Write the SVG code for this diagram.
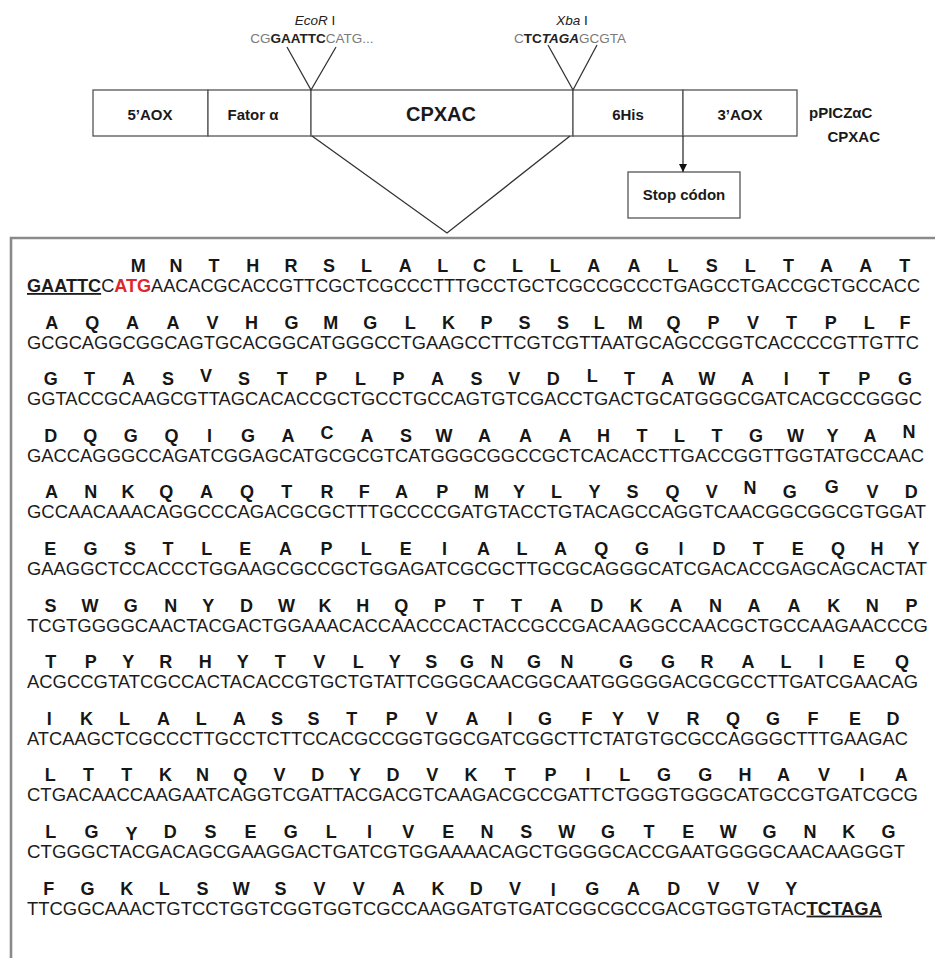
<svg xmlns="http://www.w3.org/2000/svg" width="935" height="958" viewBox="0 0 935 958">
  <defs>
    <marker id="arrowhead" viewBox="0 0 10 10" refX="10" refY="5" markerWidth="8" markerHeight="9" markerUnits="userSpaceOnUse" orient="auto">
      <path d="M0,0 L10,5 L0,10 z" fill="#111"/>
    </marker>
    <style>
      .seg { fill: #fff; stroke: #555; stroke-width: 1.3; }
      .lbl { font-family: "Liberation Sans", Arial, sans-serif; font-weight: bold; font-size: 15px; fill: #1a1a1a; text-anchor: middle; }
      .big { font-size: 20px; }
      .vec { font-size: 15px; }
      .site { font-family: "Liberation Sans", Arial, sans-serif; font-size: 13.5px; fill: #222; text-anchor: middle; }
      .grey { fill: #7a7a7a; }
      .link { stroke: #333; stroke-width: 1.3; fill: none; }
      .frame { stroke: #8a8a8a; stroke-width: 2.6; fill: none; }
      .dna { font-family: "Liberation Sans", Arial, sans-serif; font-size: 18.2px; fill: #1c1c1c; }
      .aa { font-family: "Liberation Sans", Arial, sans-serif; font-size: 18px; font-weight: bold; fill: #161616; text-anchor: middle; }
    </style>
  </defs>

  <rect x="0" y="0" width="935" height="958" fill="#fff"/>

  <!-- restriction sites -->
  <g id="site-ecori">
    <text class="site" x="315" y="25"><tspan font-style="italic">EcoR</tspan> I</text>
    <text class="site" x="312" y="43"><tspan class="grey">CG</tspan><tspan font-weight="bold">GAATTC</tspan><tspan class="grey">CATG...</tspan></text>
  </g>
  <g id="site-xbai">
    <text class="site" x="572" y="25"><tspan font-style="italic">Xba</tspan> I</text>
    <text class="site" x="570" y="43"><tspan class="grey">C</tspan><tspan font-weight="bold">TC</tspan><tspan font-weight="bold" font-style="italic">TAGA</tspan><tspan class="grey">GCGTA</tspan></text>
  </g>

  <!-- expression cassette -->
  <g id="seg-5aox">
    <rect class="seg" x="93" y="90" width="115" height="46"/>
    <text class="lbl" x="150" y="120">5’AOX</text>
  </g>
  <g id="seg-fator">
    <rect class="seg" x="208" y="90" width="103" height="46"/>
    <text class="lbl" x="253" y="120">Fator α</text>
  </g>
  <g id="seg-cpxac">
    <rect class="seg" x="311" y="90" width="262" height="46"/>
    <text class="lbl big" x="441" y="121">CPXAC</text>
  </g>
  <g id="seg-6his">
    <rect class="seg" x="573" y="90" width="110" height="46"/>
    <text class="lbl" x="628" y="120">6His</text>
  </g>
  <g id="seg-3aox">
    <rect class="seg" x="683" y="90" width="114" height="46"/>
    <text class="lbl" x="740" y="120">3’AOX</text>
  </g>
  <g id="vector-name">
    <text class="lbl vec" x="809" y="118" style="text-anchor:start">pPICZαC</text>
    <text class="lbl vec" x="880" y="142" style="text-anchor:end">CPXAC</text>
  </g>
  <g id="stop-codon">
    <rect class="seg" x="628" y="172" width="112" height="46"/>
    <text class="lbl" x="684" y="200">Stop códon</text>
  </g>

  <!-- connectors -->
  <g id="connectors">
    <path class="link" d="M287,47 L311,90 L336,47"/>
    <path class="link" d="M548,45 L573,90 L597,45"/>
    <path class="link" d="M312,136 L447,233 L570,136"/>
    <line class="link" x1="683" y1="136" x2="683" y2="172" marker-end="url(#arrowhead)"/>
  </g>

  <!-- sequence panel -->
  <g id="sequence-panel">
    <path class="frame" d="M11,958 L11,238 L935,238"/>

    <g id="row-1">
      <text class="aa" x="138.3 176 214.1 252.7 290.9 329 366.6 405.2 442.8 479.5 517.6 555.2 593.8 634 673.1 711.7 750.3 788.5 826.6 865.7 904.8" y="272">MNTHRSLALCLLAALSLTAAT</text>
      <text class="dna" x="27" y="292" textLength="893" lengthAdjust="spacingAndGlyphs"><tspan font-weight="bold" text-decoration="underline">GAATTC</tspan>C<tspan font-weight="bold" fill="#e0262b">ATG</tspan>AACACGCACCGTTCGCTCGCCCTTTGCCTGCTCGCCGCCCTGAGCCTGACCGCTGCCACC</text>
    </g>
    <g id="row-2">
      <text class="aa" x="51.7 92.2 132.6 173.1 212.5 251.4 291.4 330.8 370.3 410.2 448.6 486.6 524.5 562.9 599.3 635.2 673.6 713.6 753 791.4 830.8 869.3 905.1" y="328.6">AQAAVHGMGLKPSSLMQPVTPLF</text>
      <text class="dna" x="27" y="348.6" textLength="892" lengthAdjust="spacingAndGlyphs">GCGCAGGCGGCAGTGCACGGCATGGGCCTGAAGCCTTCGTCGTTAATGCAGCCGGTCACCCCGTTGTTC</text>
    </g>
    <g id="row-3">
      <text class="aa" x="50.7 89.6 128.6 168 205.9 243.9 282.3 321.2 360.6 398.6 437.5 476.4 514.3 553.3 592.2 629.6 667.5 707 747.4 786.3 824.3 864.2 905.1" y="385.2 385.2 385.2 385.2 382.2 385.2 385.2 385.2 385.2 385.2 385.2 385.2 385.2 385.2 382.2 385.2 385.2 385.2 385.2 385.2 385.2 385.2 385.2">GTASVSTPLPASVDLTAWAITPG</text>
      <text class="dna" x="27" y="405.2" textLength="895" lengthAdjust="spacingAndGlyphs">GGTACCGCAAGCGTTAGCACACCGCTGCCTGCCAGTGTCGACCTGACTGCATGGGCGATCACGCCGGGC</text>
    </g>
    <g id="row-4">
      <text class="aa" x="50.8 90.3 130.8 171.4 209.4 247.9 287.9 326.9 367 406 444 484.5 525.6 565.1 603.6 642.1 679.6 717.1 756.1 795.6 832.6 870.1 909.1" y="441.8 441.8 441.8 441.8 441.8 441.8 441.8 438.8 441.8 441.8 441.8 441.8 441.8 441.8 441.8 441.8 441.8 441.8 441.8 441.8 441.8 441.8 437.8">DQGQIGACASWAAAHTLTGWYAN</text>
      <text class="dna" x="27" y="461.8" textLength="897" lengthAdjust="spacingAndGlyphs">GACCAGGGCCAGATCGGAGCATGCGCGTCATGGGCGGCCGCTCACACCTTGACCGGTTGGTATGCCAAC</text>
    </g>
    <g id="row-5">
      <text class="aa" x="51.4 90.7 128 166.2 206.6 246.9 286.7 327 364.2 401.5 442.3 481.6 518.9 556.6 594.4 632.6 672.5 711.8 750 789.8 831.7 872.5 911.3" y="498.4 498.4 498.4 498.4 498.4 498.4 498.4 498.4 498.4 498.4 498.4 498.4 498.4 498.4 498.4 498.4 498.4 498.4 494.4 498.4 493.4 498.4 498.4">ANKQAQTRFAPMYLYSQVNGGVD</text>
      <text class="dna" x="27" y="518.4" textLength="899" lengthAdjust="spacingAndGlyphs">GCCAACAAACAGGCCCAGACGCGCTTTGCCCCGATGTACCTGTACAGCCAGGTCAACGGCGGCGTGGAT</text>
    </g>
    <g id="row-6">
      <text class="aa" x="50.3 90.4 130 168.1 206.7 245.3 285.4 326.6 366.2 405.8 444.4 483.5 522.1 560.6 601.3 641.9 681 719.1 758.2 797.8 837.9 877 913.6" y="555">EGSTLEAPLEIALAQGIDTEQHY</text>
      <text class="dna" x="27" y="575" textLength="900" lengthAdjust="spacingAndGlyphs">GAAGGCTCCACCCTGGAAGCGCCGCTGGAGATCGCGCTTGCGCAGGGCATCGACACCGAGCAGCACTAT</text>
    </g>
    <g id="row-7">
      <text class="aa" x="50.5 89.9 130.8 170.8 208.2 246.6 286.5 324.9 362.8 401.2 440.1 478.5 516.4 556.3 596.7 636.2 676.1 715.5 753.9 793.9 833.8 872.2 911.6" y="611.6">SWGNYDWKHQPTTADKANAAKNP</text>
      <text class="dna" x="27" y="631.6" textLength="901" lengthAdjust="spacingAndGlyphs">TCGTGGGGCAACTACGACTGGAAACACCAACCCACTACCGCCGACAAGGCCAACGCTGCCAAGAACCCG</text>
    </g>
    <g id="row-8">
      <text class="aa" x="50.8 90.8 128.3 165.8 205.3 242.8 280.3 319.3 358.3 394.8 431.3 467 497 534 567 626 668 707 748 786 821 859 902" y="668.2">TPYRHYTVLYSGNGNGGRALIEQ</text>
      <text class="dna" x="27" y="688.2" textLength="891" lengthAdjust="spacingAndGlyphs">ACGCCGTATCGCCACTACACCGTGCTGTATTCGGGCAACGGCAATGGGGGACGCGCCTTGATCGAACAG</text>
    </g>
    <g id="row-9">
      <text class="aa" x="49.2 86.6 124.5 163.4 201.3 239.2 277.1 313.4 351.8 391.7 431.7 472 510 545 587 618 653 693 733 773 813 855 893" y="724.8">IKLALASSTPVAIGFYVRQGFED</text>
      <text class="dna" x="27" y="744.8" textLength="881" lengthAdjust="spacingAndGlyphs">ATCAAGCTCGCCCTTGCCTCTTCCACGCCGGTGGCGATCGGCTTCTATGTGCGCCAGGGCTTTGAAGAC</text>
    </g>
    <g id="row-10">
      <text class="aa" x="50.3 88.5 126.7 165.4 202.6 240.3 279.5 317.7 354.9 393.1 432.3 471 510.2 550.4 588.1 624.8 664 705.2 744.9 783.6 823.9 862 901.2" y="781.4">LTTKNQVDYDVKTPILGGHAVIA</text>
      <text class="dna" x="27" y="801.4" textLength="891" lengthAdjust="spacingAndGlyphs">CTGACAACCAAGAATCAGGTCGATTACGACGTCAAGACGCCGATTCTGGGTGGGCATGCCGTGATCGCG</text>
    </g>
    <g id="row-11">
      <text class="aa" x="50.7 91.5 131.4 170.2 210.6 250.4 290.8 331.2 369.5 408.3 448.2 487 526.3 566.7 608.1 649 688.3 728.2 769.6 810 848.8 888.6" y="838 838 840 838 838 838 838 838 838 838 838 838 838 838 838 838 838 838 838 838 838 838">LGYDSEGLIVENSWGTEWGNKG</text>
      <text class="dna" x="27" y="858" textLength="878" lengthAdjust="spacingAndGlyphs">CTGGGCTACGACAGCGAAGGACTGATCGTGGAAAACAGCTGGGGCACCGAATGGGGCAACAAGGGT</text>
    </g>
    <g id="row-12">
      <text class="aa" x="48.8 87.5 126.7 164.3 202.5 241.2 280.4 319.5 358.7 398.4 438.1 476.3 515 553.2 592.3 633.6 673.8 713.5 753.2 791.3" y="894.6 894.6 894.6 894.6 894.6 894.6 894.6 894.6 894.6 894.6 894.6 894.6 894.6 895.8 894.6 894.6 894.6 894.6 894.6 894.6">FGKLSWSVVAKDVIGADVVY</text>
      <text class="dna" x="27" y="914.6" textLength="855" lengthAdjust="spacingAndGlyphs">TTCGGCAAACTGTCCTGGTCGGTGGTCGCCAAGGATGTGATCGGCGCCGACGTGGTGTAC<tspan font-weight="bold" text-decoration="underline">TCTAGA</tspan></text>
    </g>
  </g>
</svg>
